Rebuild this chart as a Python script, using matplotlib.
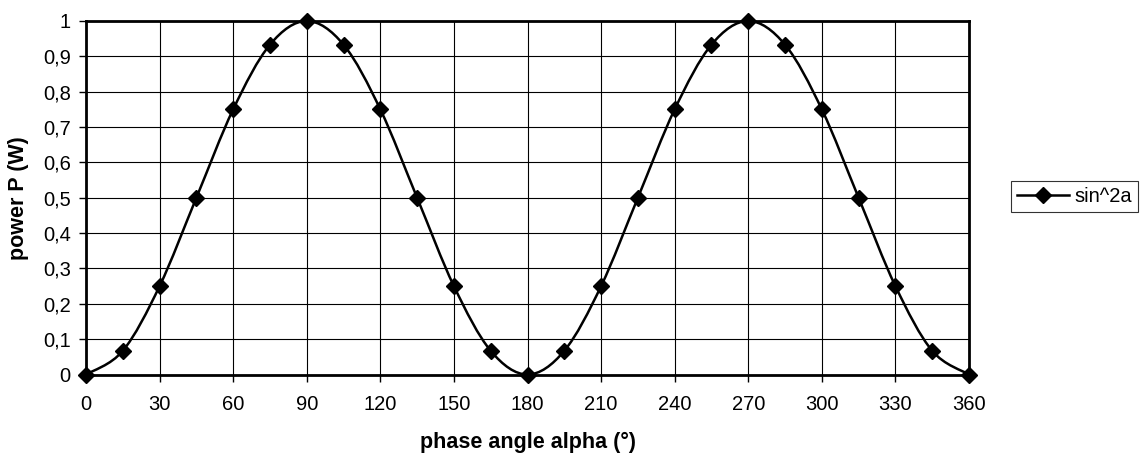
import matplotlib
matplotlib.use("Agg")
import matplotlib.pyplot as plt
from matplotlib.path import Path
from matplotlib.patches import PathPatch
from matplotlib.lines import Line2D

plt.rcParams['font.family'] = ['Liberation Sans', 'DejaVu Sans']

angles = [0, 15, 30, 45, 60, 75, 90, 105, 120, 135, 150, 165, 180,
          195, 210, 225, 240, 255, 270, 285, 300, 315, 330, 345, 360]
power = [0, 0.067, 0.25, 0.5, 0.75, 0.933, 1, 0.933, 0.75, 0.5, 0.25, 0.067, 0,
         0.067, 0.25, 0.5, 0.75, 0.933, 1, 0.933, 0.75, 0.5, 0.25, 0.067, 0]
series_name = "sin^2a"
x_ticks = list(range(0, 361, 30))
y_ticks = [i / 10 for i in range(11)]
y_labels = ["0"] + [("%.1f" % v).replace(".", ",") for v in y_ticks[1:-1]] + ["1"]

fig = plt.figure(figsize=(11.46, 4.55), dpi=100)
ax = fig.add_axes([86 / 1146, 1 - 374.5 / 455, (969 - 86) / 1146, (374.5 - 21) / 455])

# smoothed line (Excel-style Bezier through the data points)
verts = [(angles[0], power[0])]
codes = [Path.MOVETO]
n = len(angles)
for i in range(n - 1):
    p0 = (angles[max(i - 1, 0)], power[max(i - 1, 0)])
    p1 = (angles[i], power[i])
    p2 = (angles[i + 1], power[i + 1])
    p3 = (angles[min(i + 2, n - 1)], power[min(i + 2, n - 1)])
    c1 = (p1[0] + (p2[0] - p0[0]) / 6, p1[1] + (p2[1] - p0[1]) / 6)
    c2 = (p2[0] - (p3[0] - p1[0]) / 6, p2[1] - (p3[1] - p1[1]) / 6)
    verts += [c1, c2, p2]
    codes += [Path.CURVE4] * 3
patch = PathPatch(Path(verts, codes), facecolor='none', edgecolor='black',
                  lw=1.8, transform=ax.transData, clip_on=False, zorder=3)
ax.add_patch(patch)
ax.plot(angles, power, linestyle='none', marker='D', ms=8.5, color='black',
        clip_on=False, zorder=4)

ax.set_xlim(0, 360)
ax.set_ylim(0, 1)
ax.set_xticks(x_ticks)
ax.set_yticks(y_ticks)
ax.set_yticklabels(y_labels)
ax.grid(True, color='black', lw=0.8)
ax.set_axisbelow(True)
for s in ax.spines.values():
    s.set_linewidth(2)
    s.set_color('black')
ax.tick_params(axis='both', direction='out', length=5, width=1, labelsize=14.5,
               colors='black')
ax.tick_params(axis='x', pad=10)
ax.tick_params(axis='y', pad=6)
ax.set_xlabel("phase angle alpha (°)", fontsize=15.5, fontweight='bold', labelpad=13)
ax.set_ylabel("power P (W)", fontsize=15.5, fontweight='bold', labelpad=10)

handle = Line2D([], [], color='black', lw=1.8, marker='D', ms=8.5)
leg = fig.legend([handle], [series_name], loc='upper left',
                 bbox_to_anchor=(1011 / 1146, 1 - 181 / 455), fontsize=14.5,
                 frameon=True, fancybox=False, shadow=False, borderaxespad=0,
                 handlelength=2.6, borderpad=0.3, handletextpad=0.25)
leg.get_frame().set_edgecolor('black')
leg.get_frame().set_linewidth(0.8)

fig.savefig("out.png", dpi=100)
